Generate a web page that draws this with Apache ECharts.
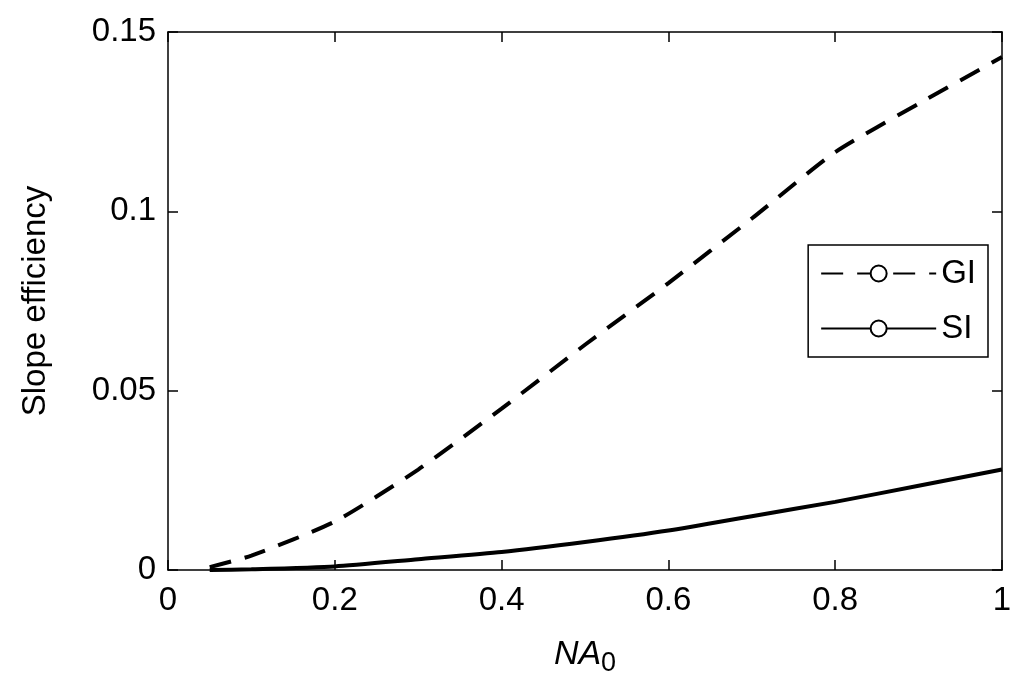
<!DOCTYPE html>
<html><head><meta charset="utf-8">
<script src="https://cdn.jsdelivr.net/npm/echarts@6/dist/echarts.min.js"></script>
<style>html,body{margin:0;padding:0;background:#fff}#c{width:1024px;height:697px}</style>
</head><body><div id="c"></div>
<script>
const xs = [0.05,0.1,0.2,0.3,0.4,0.5,0.6,0.7,0.8,0.9,1.0];
const gi = [0.0008,0.004,0.0135,0.028,0.045,0.0628,0.08,0.098,0.1165,0.130,0.143];
const si = [0,0.0002,0.001,0.003,0.005,0.0078,0.011,0.015,0.019,0.0235,0.028];
const xTicks = [0,0.2,0.4,0.6,0.8,1];
const yTicks = [0,0.05,0.1,0.15];
const F = 'Liberation Sans';
const chart = echarts.init(document.getElementById('c'));
const tick = {show:true,inside:true,length:10,lineStyle:{color:'#000',width:1.5}};
const line = {show:true,onZero:false,lineStyle:{color:'#000',width:1.5}};
chart.setOption({
  animation:false,
  grid:{left:168,right:22,top:32,bottom:127,show:false},
  legend:{right:36,top:245,orient:'vertical',itemWidth:115,itemHeight:20,itemGap:22,
    padding:[12,12,12,12],borderColor:'#000',borderWidth:1.5,backgroundColor:'#fff',
    textStyle:{fontFamily:F,fontSize:33,color:'#000'},
    data:[{name:'GI'},{name:'SI'}]},
  xAxis:[{type:'value',min:0,max:1,interval:0.2,position:'bottom',axisLine:line,axisTick:tick,splitLine:{show:false},
    axisLabel:{fontFamily:F,fontSize:33,color:'#000',margin:14,formatter:v=>String(Math.round(v*10)/10)},
    name:'{i|NA}{s|0}',nameLocation:'middle',nameGap:62,
    nameTextStyle:{rich:{i:{fontFamily:F,fontSize:34,fontStyle:'italic',color:'#000'},
      s:{fontFamily:F,fontSize:27,color:'#000',padding:[18,0,0,0]}}}},
    {type:'value',min:0,max:1,interval:0.2,position:'top',axisLine:line,axisTick:tick,axisLabel:{show:false},splitLine:{show:false}}],
  yAxis:[{type:'value',min:0,max:0.15,interval:0.05,position:'left',axisLine:line,axisTick:tick,splitLine:{show:false},
    axisLabel:{fontFamily:F,fontSize:33,color:'#000',margin:12,formatter:v=>v===0?'0':String(Math.round(v*100)/100)},
    name:'Slope efficiency',nameLocation:'middle',nameGap:116,
    nameTextStyle:{fontFamily:F,fontSize:33,color:'#000'}},
    {type:'value',min:0,max:0.15,interval:0.05,position:'right',axisLine:line,axisTick:tick,axisLabel:{show:false},splitLine:{show:false}}],
  series:[
    {name:'GI',type:'line',smooth:0.2,showSymbol:false,data:xs.map((x,i)=>[x,gi[i]]),
      itemStyle:{color:'#000'},lineStyle:{color:'#000',width:4,type:[22,14]}},
    {name:'SI',type:'line',smooth:0.2,showSymbol:false,data:xs.map((x,i)=>[x,si[i]]),
      itemStyle:{color:'#000'},lineStyle:{color:'#000',width:4}}
  ]
});
</script></body></html>
